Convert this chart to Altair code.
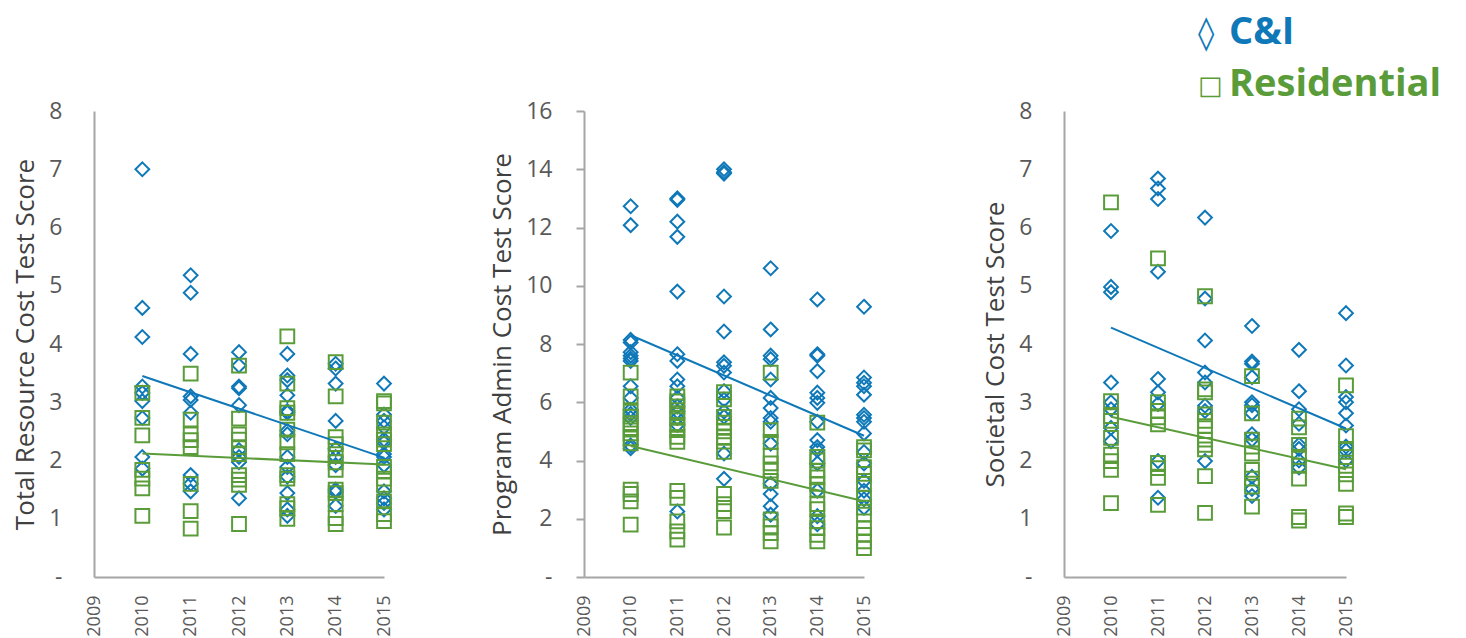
import altair as alt
import pandas as pd

YEARS = [2010, 2011, 2012, 2013, 2014, 2015]
SERIES = ["C&I", "Residential"]
BLUE = "#0f78b8"
GREEN = "#5a9c3a"
FONT = "Open Sans"

# ---- Total Resource Cost test ----
trc_ci = [
    [7.0, 4.62, 4.12, 3.27, 3.16, 3.02, 2.73, 2.06, 1.86],
    [5.18, 4.88, 3.83, 3.1, 3.04, 2.82, 1.75, 1.6, 1.47],
    [3.86, 3.63, 3.27, 3.24, 2.95, 2.18, 2.06, 1.97, 1.35],
    [3.83, 3.46, 3.38, 3.12, 2.85, 2.82, 2.51, 2.45, 2.06, 1.89, 1.72, 1.44, 1.16, 1.05],
    [3.66, 3.58, 3.32, 2.68, 2.2, 2.06, 1.92, 1.5, 1.46, 1.22],
    [3.32, 2.79, 2.68, 2.57, 2.36, 2.31, 2.11, 2.06, 1.92, 1.47, 1.35, 1.27, 1.16],
]
trc_res = [
    [3.16, 2.73, 2.43, 1.84, 1.69, 1.52, 1.05],
    [3.49, 2.7, 2.45, 2.35, 2.23, 1.6, 1.13, 0.83],
    [3.63, 2.72, 2.45, 2.36, 2.23, 2.11, 1.75, 1.67, 1.58, 0.91],
    [4.13, 3.32, 2.9, 2.82, 2.53, 2.31, 2.11, 1.75, 1.69, 1.25, 1.18, 1.0],
    [3.69, 3.1, 2.4, 2.28, 2.11, 1.97, 1.84, 1.5, 1.44, 1.25, 1.01, 0.91],
    [3.02, 2.98, 2.65, 2.45, 2.36, 2.28, 1.89, 1.81, 1.69, 1.58, 1.3, 1.08, 0.96],
]
trc_trend_ci = [3.45, 2.05]
trc_trend_res = [2.12, 1.93]

# ---- Program Administrator Cost test ----
pac_ci = [
    [12.73, 12.08, 8.14, 8.05, 7.72, 7.6, 7.5, 7.42, 6.55, 6.15, 5.74, 5.6, 5.46, 4.52, 4.42],
    [13.0, 12.95, 12.2, 11.68, 9.8, 7.65, 7.42, 6.78, 6.55, 6.15, 5.86, 5.68, 5.46, 5.22, 2.25],
    [14.0, 13.9, 13.85, 9.63, 8.43, 7.37, 7.25, 7.02, 6.38, 6.09, 5.68, 5.5, 4.24, 3.37],
    [10.6, 8.5, 7.6, 7.48, 6.78, 6.15, 5.8, 5.46, 5.33, 4.58, 3.2, 2.85, 2.43, 2.14],
    [9.53, 7.65, 7.6, 7.07, 6.33, 6.15, 5.98, 5.33, 4.7, 4.46, 4.35, 3.9, 2.96, 2.09, 1.81],
    [9.28, 6.85, 6.67, 6.55, 6.26, 5.57, 5.46, 5.33, 4.93, 4.29, 3.9, 3.3, 2.96, 2.67, 2.38],
]
pac_res = [
    [7.02, 6.2, 5.68, 5.51, 5.28, 5.11, 4.93, 4.76, 4.59, 3.0, 2.85, 2.6, 1.8],
    [6.2, 6.03, 5.86, 5.63, 5.46, 5.22, 5.04, 4.81, 4.64, 2.96, 2.72, 1.91, 1.57, 1.28],
    [6.35, 6.1, 5.5, 5.3, 5.15, 5.0, 4.8, 4.65, 4.3, 2.85, 2.5, 2.26, 1.7],
    [7.02, 5.04, 4.64, 4.17, 3.9, 3.65, 3.3, 1.98, 1.74, 1.51, 1.22],
    [5.3, 4.12, 4.0, 3.65, 3.42, 3.2, 3.0, 2.5, 2.33, 1.91, 1.68, 1.45, 1.22],
    [4.46, 4.35, 3.77, 3.54, 3.2, 2.72, 2.38, 2.14, 1.68, 1.45, 1.22, 0.99],
]
pac_trend_ci = [8.3, 4.85]
pac_trend_res = [4.5, 2.6]

# ---- Societal Cost test ----
sct_ci = [
    [5.94, 4.98, 4.89, 3.34, 3.0, 2.88, 2.56, 2.33],
    [6.84, 6.67, 6.49, 5.24, 3.4, 3.17, 2.97, 1.99, 1.36],
    [6.17, 4.78, 4.06, 3.51, 3.34, 2.94, 2.85, 1.99],
    [4.31, 3.7, 3.66, 3.43, 3.0, 2.95, 2.81, 2.45, 2.36, 1.72, 1.51, 1.39],
    [3.9, 3.19, 2.88, 2.63, 2.27, 2.2, 2.0, 1.88],
    [4.53, 3.63, 3.09, 3.0, 2.81, 2.6, 2.24, 2.17, 2.0],
]
sct_res = [
    [6.43, 3.02, 2.76, 2.68, 2.39, 2.1, 1.99, 1.84, 1.27],
    [5.47, 3.0, 2.85, 2.74, 2.62, 1.96, 1.87, 1.7, 1.24],
    [4.82, 3.22, 3.17, 2.79, 2.68, 2.59, 2.36, 2.27, 2.19, 1.73, 1.1],
    [3.45, 2.81, 2.36, 2.24, 2.12, 1.84, 1.69, 1.55, 1.21],
    [2.72, 2.57, 2.27, 2.06, 1.91, 1.69, 1.03, 0.97],
    [3.29, 2.42, 2.2, 2.06, 1.91, 1.76, 1.6, 1.09, 1.03],
]
sct_trend_ci = [4.28, 2.55]
sct_trend_res = [2.75, 1.85]

X_TICKS = [2009, 2010, 2011, 2012, 2013, 2014, 2015]
TREND_YEARS = [2010, 2015]

DIAMOND = "M0,-1L1,0L0,1L-1,0Z"
SQUARE = "M-1,-1L1,-1L1,1L-1,1Z"
color_scale = alt.Scale(domain=SERIES, range=[BLUE, GREEN])
shape_scale = alt.Scale(domain=SERIES, range=[DIAMOND, SQUARE])


def points_df(ci, res):
    rows = []
    for name, series in (("C&I", ci), ("Residential", res)):
        for yr, vals in zip(YEARS, series):
            for v in vals:
                rows.append({"year": yr, "value": v, "series": name})
    return pd.DataFrame(rows)


def trend_df(tci, tres):
    rows = []
    for name, t in (("C&I", tci), ("Residential", tres)):
        for yr, v in zip(TREND_YEARS, t):
            rows.append({"year": yr, "value": v, "series": name})
    return pd.DataFrame(rows)


def panel(ci, res, tci, tres, ymax, ystep, title, width, ticks):
    x = alt.X(
        "year:Q",
        scale=alt.Scale(domain=[2009, 2015], nice=False, zero=False),
        axis=alt.Axis(
            values=X_TICKS, format="d", labelAngle=270, grid=False, ticks=False,
            domainColor="#a6a6a6", domainWidth=2, labelFontSize=18,
            labelColor="#595959", labelFont=FONT, labelPadding=18,
            labelFlush=False, labelOverlap=False, title=None,
        ),
    )
    y = alt.Y(
        "value:Q",
        scale=alt.Scale(domain=[0, ymax], nice=False),
        axis=alt.Axis(
            values=list(range(0, ymax + 1, ystep)), format="d",
            labelExpr="datum.value == 0 ? '-' : datum.label",
            grid=False, ticks=ticks, tickSize=8, tickColor="#a6a6a6", tickWidth=2,
            domainColor="#a6a6a6", domainWidth=2,
            labelFontSize=23, labelColor="#595959", labelFont=FONT,
            labelPadding=(24 if ticks else 32), labelFlush=False,
            title=title, titleFontSize=26, titleFontWeight="normal",
            titleColor="#404040", titleFont=FONT, titlePadding=10,
        ),
    )
    pts = alt.Chart(points_df(ci, res)).mark_point(
        filled=False, size=190, strokeWidth=2, opacity=1
    ).encode(
        x=x, y=y,
        color=alt.Color("series:N", scale=color_scale, legend=None),
        shape=alt.Shape("series:N", scale=shape_scale, legend=None),
    )
    line = alt.Chart(trend_df(tci, tres)).mark_line(strokeWidth=2).encode(
        x="year:Q", y="value:Q",
        color=alt.Color("series:N", scale=color_scale, legend=None),
        detail="series:N",
    )
    return alt.layer(pts, line).properties(width=width, height=466)


p1 = panel(trc_ci, trc_res, trc_trend_ci, trc_trend_res, 8, 1,
           "Total Resource Cost Test Score", 290, False)
p2 = panel(pac_ci, pac_res, pac_trend_ci, pac_trend_res, 16, 2,
           "Program Admin Cost Test Score", 280, True)
p3 = panel(sct_ci, sct_res, sct_trend_ci, sct_trend_res, 8, 1,
           "Societal Cost Test Score", 282, False)

# custom legend (top right)
LEGEND_GLYPHS = ["\u25CA", "\u25A1"]
LEGEND_GLYPH_SIZES = [33, 26]
LEGEND_LABELS = ["C&I", "Residential"]
LEGEND_COLORS = [BLUE, GREEN]
legend_layers = []
for i, (g, gs, lab, col) in enumerate(
        zip(LEGEND_GLYPHS, LEGEND_GLYPH_SIZES, LEGEND_LABELS, LEGEND_COLORS)):
    base_y = -67 + 52 * i
    legend_layers.append(
        alt.Chart(pd.DataFrame({"t": [g]})).mark_text(
            align="left", baseline="alphabetic", fontSize=gs, font="DejaVu Sans",
            color=col
        ).encode(x=alt.value(134), y=alt.value(base_y - (2 if i else 0)), text="t:N")
    )
    legend_layers.append(
        alt.Chart(pd.DataFrame({"t": [lab]})).mark_text(
            align="left", baseline="alphabetic", fontSize=38, fontWeight="bold",
            font=FONT, color=col
        ).encode(x=alt.value(165), y=alt.value(base_y), text="t:N")
    )

p3 = alt.layer(p3, *legend_layers)

chart = alt.hconcat(p1, p2, p3, spacing=200, bounds="flush").configure_view(
    stroke=None
).properties(padding={"left": 12, "top": 14, "right": 5, "bottom": 0})

chart.save("out.html", embed_options={"renderer": "svg", "actions": False})
